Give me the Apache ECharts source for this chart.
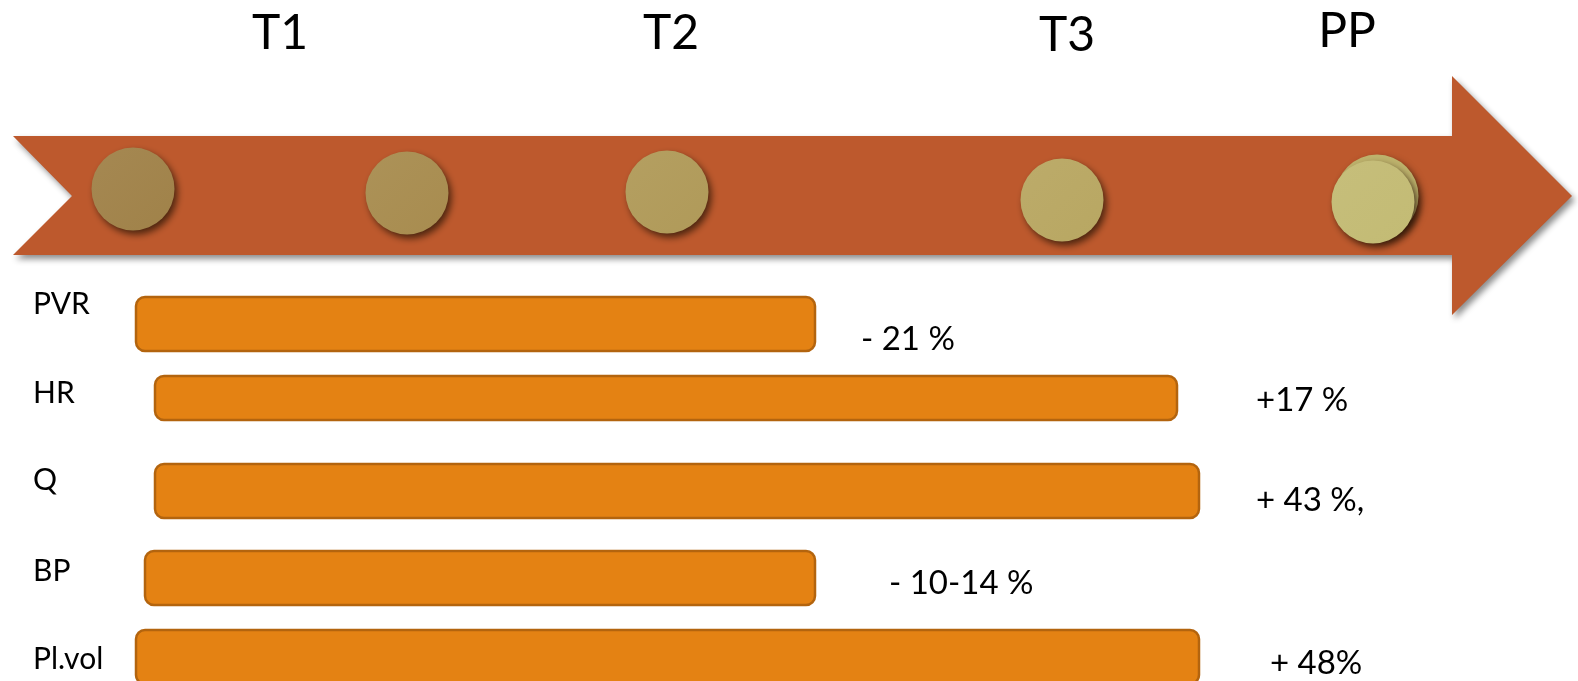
<!DOCTYPE html>
<html>
<head>
<meta charset="utf-8">
<script src="https://cdn.jsdelivr.net/npm/echarts@6/dist/echarts.min.js"></script>
<style>
html,body{margin:0;padding:0;background:#fff;}
#chart{width:1578px;height:681px;}
</style>
</head>
<body>
<div id="chart"></div>
<script>
// ---------- data ----------
const categories   = ['PVR', 'HR', 'Q', 'BP', 'Pl.vol'];
const barStart     = [136, 155, 155, 145, 136];
const barEnd       = [815, 1177, 1199, 815, 1199];
const barRow       = [324, 398, 491, 578, 657];
const categoryRow  = [303, 392, 479, 570, 658];
const changeLabels = ['- 21 %', '+17 %', '+ 43 %,', '- 10-14 %', '+ 48%'];
const changeX      = [861, 1256, 1256, 889, 1270];
const changeRow    = [338, 399, 499, 582, 662];

const timepoints   = ['T1', 'T2', 'T3', 'PP'];
const timepointX   = [280, 671, 1067, 1347];
const timepointRow = [32, 32, 34, 30];

const markerX      = [133, 407, 667, 1062, 1373];
const markerRow    = [189, 193, 192, 200, 202];

const arrowX   = [13, 72, 1452, 1572];   // tail, notch, head base, tip
const arrowRow = [76, 136, 196, 255, 315];

// ---------- styles ----------
const FONT = 'Lato, "Open Sans", sans-serif';
const markerColors = ['#A08249', '#A88C4F', '#B09A59', '#B8A762', '#C3BB74'];
const BAR_THICK = {HR: 44};

function lighten(hex, a) {
  const n = parseInt(hex.slice(1), 16);
  let r = n >> 16, g = (n >> 8) & 255, b = n & 255;
  r = Math.round(r + (255 - r) * a); g = Math.round(g + (255 - g) * a); b = Math.round(b + (255 - b) * a);
  return 'rgb(' + r + ',' + g + ',' + b + ')';
}

const chart = echarts.init(document.getElementById('chart'), null, {renderer: 'canvas'});

const markerData = markerX.map((x, i) => ({
  value: [x, markerRow[i]],
  itemStyle: {
    color: new echarts.graphic.LinearGradient(0, 0, 1, 1, [
      {offset: 0, color: lighten(markerColors[i], 0.05)},
      {offset: 1, color: markerColors[i]}
    ])
  }
}));
// second (stacked) disc behind PP
const ppBack = [{
  value: [markerX[4] + 4, markerRow[4] - 6],
  itemStyle: {color: '#BDB26C'}
}];

const discStyle = {opacity: 1, shadowBlur: 7, shadowOffsetX: 3, shadowOffsetY: 4, shadowColor: 'rgba(40,20,5,0.75)'};

const option = {
  animation: false,
  backgroundColor: '#ffffff',
  grid: {left: 0, right: 0, top: 0, bottom: 0},
  xAxis: {type: 'value', min: 0, max: 1578, show: false},
  yAxis: {type: 'value', min: 0, max: 681, inverse: true, show: false},
  series: [
    {
      type: 'custom',
      name: 'arrow',
      coordinateSystem: 'cartesian2d',
      data: [[arrowX[0], arrowX[3]]],
      z: 1,
      renderItem: function (params, api) {
        const P = (x, y) => api.coord([x, y]);
        const pts = [
          P(arrowX[0], arrowRow[1]), P(arrowX[2], arrowRow[1]), P(arrowX[2], arrowRow[0]),
          P(arrowX[3], arrowRow[2]), P(arrowX[2], arrowRow[4]), P(arrowX[2], arrowRow[3]),
          P(arrowX[0], arrowRow[3]), P(arrowX[1], arrowRow[2])
        ];
        return {
          type: 'polygon',
          shape: {points: pts},
          style: {
            fill: '#BD592D',
            shadowBlur: 6,
            shadowOffsetX: 3,
            shadowOffsetY: 4,
            shadowColor: 'rgba(0,0,0,0.45)'
          }
        };
      }
    },
    {
      type: 'scatter',
      name: 'ppBack',
      symbol: 'circle',
      symbolSize: 83,
      z: 2,
      itemStyle: discStyle,
      emphasis: {disabled: true},
      data: ppBack
    },
    {
      type: 'scatter',
      name: 'markers',
      symbol: 'circle',
      symbolSize: 83,
      z: 3,
      itemStyle: discStyle,
      emphasis: {disabled: true},
      data: markerData
    },
    {
      type: 'custom',
      name: 'bars',
      coordinateSystem: 'cartesian2d',
      data: categories.map((c, i) => [barStart[i], barEnd[i], barRow[i], i]),
      z: 4,
      renderItem: function (params, api) {
        const i = api.value(3);
        const h = BAR_THICK[categories[i]] || 54;
        const a = api.coord([api.value(0), api.value(2)]);
        const b = api.coord([api.value(1), api.value(2)]);
        return {
          type: 'rect',
          shape: {x: a[0], y: a[1] - h / 2, width: b[0] - a[0], height: h, r: 9},
          style: {fill: '#E48213', stroke: '#B3640E', lineWidth: 2.5}
        };
      }
    },
    {
      type: 'custom',
      name: 'categoryLabels',
      coordinateSystem: 'cartesian2d',
      data: categories.map((c, i) => [33, categoryRow[i], i]),
      z: 5,
      renderItem: function (params, api) {
        const p = api.coord([api.value(0), api.value(1)]);
        return {
          type: 'text',
          style: {text: categories[api.value(2)], x: p[0], y: p[1] + 1, fill: '#000',
                  font: '30px ' + FONT, align: 'left', verticalAlign: 'middle'}
        };
      }
    },
    {
      type: 'custom',
      name: 'changeLabels',
      coordinateSystem: 'cartesian2d',
      data: changeLabels.map((c, i) => [changeX[i], changeRow[i], i]),
      z: 5,
      renderItem: function (params, api) {
        const p = api.coord([api.value(0), api.value(1)]);
        return {
          type: 'text',
          style: {text: changeLabels[api.value(2)], x: p[0], y: p[1] + 1, fill: '#000',
                  font: '33px ' + FONT, align: 'left', verticalAlign: 'middle'}
        };
      }
    },
    {
      type: 'custom',
      name: 'timepoints',
      coordinateSystem: 'cartesian2d',
      data: timepoints.map((t, i) => [timepointX[i], timepointRow[i], i]),
      z: 5,
      renderItem: function (params, api) {
        const p = api.coord([api.value(0), api.value(1)]);
        return {
          type: 'text',
          style: {text: timepoints[api.value(2)], x: p[0], y: p[1] + 2, fill: '#000',
                  font: '48px ' + FONT, align: 'center', verticalAlign: 'middle'}
        };
      }
    }
  ]
};
chart.setOption(option);
</script>
</body>
</html>
